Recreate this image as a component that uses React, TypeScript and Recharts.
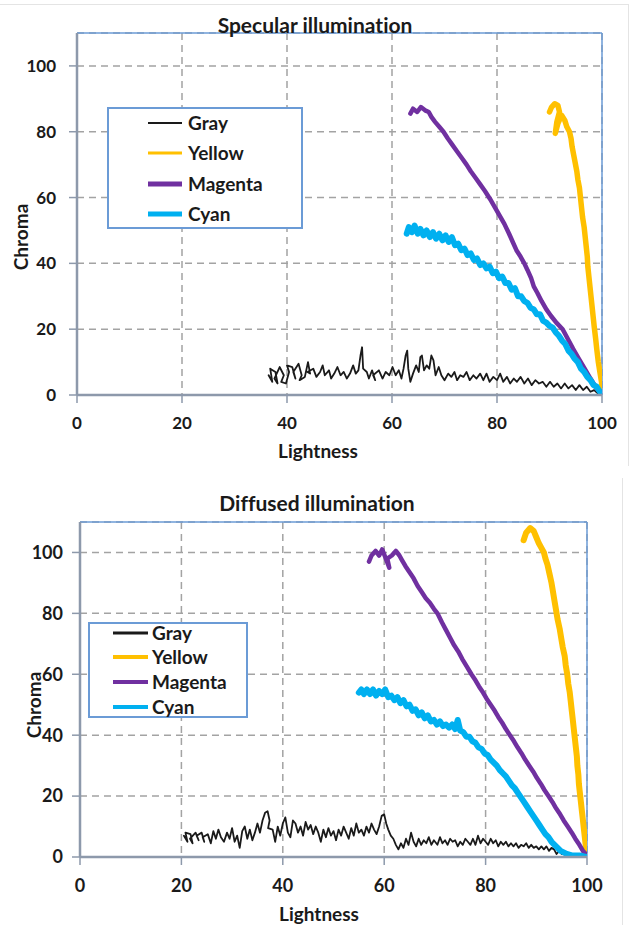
import React from 'react';
import { LineChart, Line, XAxis, YAxis, CartesianGrid, Legend, ReferenceLine } from 'recharts';

// ---------- Series meta ----------
const seriesNames = ['Gray', 'Yellow', 'Magenta', 'Cyan'];
const seriesColors: Record<string, string> = {
  Gray: '#1a1a1a',
  Yellow: '#ffc000',
  Magenta: '#7030a0',
  Cyan: '#00b0f0',
};

const xTicks = [0, 20, 40, 60, 80, 100];
const yTicks = [0, 20, 40, 60, 80, 100];

// ---------- Specular illumination (Lightness, Chroma) ----------
const specGray: number[][] = [
  [36.5, 6], [37.2, 4], [36.8, 8], [37.8, 7], [38.2, 3.5], [37.6, 5], [38.6, 8.5], [39.4, 6], [38.9, 4],
  [39.8, 3.5], [40.4, 7], [40, 9], [41, 8.5], [41.6, 5], [41.2, 7], [42.2, 9.5], [42.8, 6], [42.4, 4.5],
  [43.4, 5.5], [44, 10], [44.4, 6.5], [43.9, 7], [45, 8], [45.6, 5.5], [46.3, 7], [46.8, 9], [47.2, 6],
  [48, 7.5], [48.4, 5], [49, 6.5], [49.6, 8.5], [50.2, 6], [50.8, 7], [51.4, 5], [52, 6.5], [52.6, 9],
  [53.1, 6.5], [53.6, 7.5], [54, 12], [54.3, 14.5], [54.5, 8], [55.2, 7], [55.6, 5], [56.2, 7.5],
  [56.8, 4.5], [56.4, 6], [57.5, 7.5], [58.2, 5], [58.8, 7], [59.5, 6], [60.1, 8.5], [60.7, 6],
  [61.3, 7.5], [61.8, 5], [62.2, 8], [62.6, 12], [62.9, 13.5], [63.1, 8], [63.5, 4], [64, 6.5],
  [64.6, 9], [65.1, 7], [65.4, 11.5], [65.7, 12], [66.1, 7.5], [66.6, 9], [67.1, 8], [67.5, 12],
  [67.9, 10.5], [68.3, 6], [68.9, 8.5], [69.4, 6], [70, 4.5], [70.7, 6.5], [71.3, 5.5], [71.9, 7],
  [72.4, 4.5], [73, 6], [73.6, 5.5], [74.2, 7], [74.8, 4.5], [75.5, 6], [76.1, 5], [76.8, 6.5],
  [77.4, 4.5], [78, 6.5], [78.6, 4], [79.3, 5.5], [80, 4.5], [80.6, 6.5], [81.2, 4], [81.9, 5.5],
  [82.5, 3.5], [83.2, 5], [83.8, 4], [84.5, 5.5], [85.2, 3.5], [85.9, 5], [86.6, 3], [87.3, 4.5],
  [88, 3.5], [88.7, 4], [89.4, 2.5], [90.1, 4], [90.8, 2.5], [91.5, 3.5], [92.2, 2], [92.9, 3.5],
  [93.6, 2], [94.3, 3], [95, 1.5], [95.7, 3], [96.4, 1.5], [97.1, 2.5], [97.8, 1], [98.5, 1.5],
  [99.2, 0.5], [100, 0],
];

const specYellow: number[][] = [
  [90, 86], [90.4, 87.5], [91, 88.5], [91.6, 88], [91.9, 86], [91.4, 83], [91.1, 79.5], [91.6, 82.5],
  [92.3, 85], [92.9, 83.5], [93.3, 81.5], [93.8, 80], [94.1, 78], [94.3, 75.5], [94.6, 73], [94.9, 70.5],
  [95.2, 68], [95.4, 65.5], [95.7, 63], [95.9, 60], [96.1, 57], [96.3, 54], [96.6, 51], [96.8, 48],
  [97, 45], [97.2, 42], [97.3, 39], [97.5, 36], [97.7, 33], [97.9, 30], [98.1, 27], [98.3, 24],
  [98.5, 21], [98.8, 17], [99, 14], [99.3, 10], [99.6, 7], [99.9, 4], [100, 2],
];

const specMagenta: number[][] = [
  [63.5, 85.5], [64, 87], [64.8, 86], [65.5, 87.5], [66.3, 86.5], [67, 86], [67.5, 84.5], [68.2, 83],
  [69, 81.5], [69.8, 80], [70.6, 78], [71.5, 76], [72.4, 74], [73.3, 72], [74.2, 70], [75, 68],
  [75.9, 66], [76.8, 64], [77.7, 62], [78.7, 59.5], [79.6, 57], [80.5, 54.5], [81.4, 52], [82.3, 49],
  [83, 46.5], [83.7, 44], [84.5, 42], [85.2, 40], [85.8, 38], [86.5, 35.5], [87, 33], [87.7, 31],
  [88.5, 28.5], [89.4, 26], [90.3, 24], [91.3, 22], [92.5, 20], [93.5, 17], [94.5, 14], [95.6, 11],
  [96.7, 8], [97.8, 5], [99, 2], [100, 0.5],
];

const specCyan: number[][] = [
  [62.8, 49], [63.2, 51], [63.8, 49.5], [64.3, 51.5], [64.9, 49], [65.4, 50.5], [66, 48.5], [66.6, 50],
  [67.2, 48], [67.8, 49.5], [68.4, 47.5], [69, 49], [69.6, 47], [70.2, 48.5], [70.8, 46.5], [71.4, 48],
  [72, 45.5], [72.6, 46], [73.2, 44], [73.8, 44.5], [74.4, 42.5], [75, 43], [75.6, 41], [76.2, 41.5],
  [76.8, 39.5], [77.4, 40], [78, 38.5], [78.6, 39], [79.2, 37], [79.8, 37.5], [80.4, 35.5], [81, 36],
  [81.6, 34], [82.2, 34], [82.8, 32], [83.4, 32.5], [84, 30], [84.6, 30], [85.2, 28.5], [85.8, 28],
  [86.4, 26.5], [87, 26], [87.6, 24.5], [88.2, 24.5], [88.8, 22.5], [89.4, 22], [90, 21], [90.6, 20.5],
  [91.2, 19], [91.8, 18], [92.4, 16.5], [93, 15.5], [93.6, 13.5], [94.2, 12.5], [94.8, 11], [95.4, 10],
  [96, 8], [96.6, 7], [97.2, 5.5], [97.8, 4.5], [98.4, 3], [99, 2.5], [99.6, 1], [100, 0.5],
];

// ---------- Diffused illumination (Lightness, Chroma) ----------
const diffGray: number[][] = [
  [20.5, 7], [21.2, 5], [20.8, 8], [21.8, 7.5], [22.2, 4.5], [21.7, 6], [22.8, 8], [23.4, 5.5], [23, 7],
  [24, 8], [24.5, 5], [24.2, 6.5], [25.2, 7.5], [25.8, 4.5], [26.3, 8.5], [26.8, 6], [27.3, 9],
  [27.8, 6.5], [28.4, 5], [29, 8], [29.5, 6], [30, 9.5], [30.5, 5], [31, 7], [31.5, 3], [32, 8.5],
  [32.5, 10], [33, 6], [33.5, 9], [34, 5.5], [34.5, 8], [35, 11], [35.5, 8], [36, 12], [36.5, 14.5],
  [37, 15], [37.4, 12], [37.1, 9.5], [38, 9], [38.5, 5], [39, 10], [39.5, 7], [40, 11], [40.5, 13],
  [41, 8], [41.5, 6.5], [42, 12], [42.5, 11], [43, 8], [43.5, 10], [44, 7], [44.5, 11.5], [45, 9],
  [45.5, 10.5], [46, 7.5], [46.5, 10], [47, 8], [47.5, 5], [48, 9], [48.5, 6.5], [49, 9.5], [49.5, 7],
  [50, 8.5], [50.5, 5.5], [51, 9], [51.5, 7], [52, 10], [52.5, 8], [53, 6], [53.5, 9.5], [54, 7],
  [54.5, 11], [55, 8], [55.5, 9], [56, 7], [56.5, 10], [57, 8], [57.5, 11], [58, 9], [58.5, 7.5],
  [59, 10], [59.5, 13.5], [60, 14], [60.4, 11], [60.8, 9], [61.3, 7], [61.8, 6], [62.3, 4], [62.8, 2.5],
  [63.3, 4.5], [63.8, 3], [64.3, 6], [64.8, 4], [65.3, 8], [65.8, 5], [66.3, 3.5], [66.8, 6], [67.3, 4],
  [67.8, 5.5], [68.3, 4.5], [68.8, 6.5], [69.3, 4], [69.8, 5.5], [70.5, 4], [71, 6.5], [71.5, 4.5],
  [72, 5.5], [72.5, 4], [73, 6], [73.5, 5], [74, 5.5], [74.5, 3.5], [75, 5], [75.5, 4], [76, 6],
  [76.5, 5], [77, 4], [77.5, 6], [78, 4], [78.5, 7], [79, 4.5], [79.5, 6], [80, 5], [80.5, 4], [81, 6],
  [81.5, 4.5], [82, 5.5], [82.5, 3.5], [83, 5], [83.5, 4], [84, 5], [84.5, 3.5], [85, 4.5], [85.5, 3.5],
  [86, 4.5], [86.5, 3], [87, 4], [87.5, 3.5], [88, 4.5], [88.5, 3], [89, 4], [89.5, 3], [90, 3.5],
  [90.5, 2.5], [91, 3.5], [91.5, 2.5], [92, 3.5], [92.5, 2], [93, 3], [93.5, 2.5], [94, 1], [94.5, 2],
  [95, 1], [95.5, 1.5], [96, 0.5],
];

const diffYellow: number[][] = [
  [87.5, 104], [88, 106.5], [88.8, 108], [89.5, 107], [90, 105], [90.5, 103], [91, 101.5], [91.5, 100],
  [91.8, 98], [92.2, 96], [92.6, 93], [93, 90], [93.3, 87], [93.6, 84], [93.9, 81], [94.2, 78],
  [94.6, 75], [94.9, 72], [95.2, 69], [95.6, 66], [95.8, 63], [96.1, 60], [96.3, 57], [96.6, 54],
  [96.8, 51], [97, 48], [97.2, 45], [97.4, 42], [97.6, 39], [97.8, 36], [98, 33], [98.1, 30],
  [98.3, 27], [98.4, 24], [98.6, 21], [98.8, 18], [99, 15], [99.2, 12], [99.4, 9], [99.6, 6],
  [99.8, 3], [100, 1],
];

const diffMagenta: number[][] = [
  [57, 97], [57.5, 99], [58.3, 100.5], [59, 99], [59.6, 101], [60.2, 98.5], [61, 95], [60.6, 98],
  [61.5, 99], [62.3, 100.5], [63, 99], [63.5, 97.5], [64.2, 95.5], [65, 93.5], [65.8, 91.5], [66.6, 89],
  [67.4, 87], [68.2, 85], [69, 83.5], [69.8, 81.5], [70.5, 80], [71.4, 77], [72.2, 74.5], [73, 72],
  [73.8, 69.5], [74.6, 67.5], [75.4, 65], [76.3, 62.5], [77.2, 60], [78, 58], [78.7, 56], [79.5, 54],
  [80.2, 52], [81, 50], [81.8, 48], [82.5, 46], [83.3, 44], [84, 42], [84.8, 40], [85.6, 38],
  [86.3, 36], [87.1, 34], [87.8, 32], [88.6, 30], [89.4, 28], [90.1, 26], [90.9, 24], [91.6, 22],
  [92.4, 20], [93.2, 18], [93.9, 16], [94.7, 14], [95.4, 12], [96.2, 10], [97, 8], [97.7, 6],
  [98.5, 4], [99.2, 2], [100, 0.5],
];

const diffCyan: number[][] = [
  [55, 54], [55.5, 55], [56, 53.5], [56.6, 55], [57.2, 53.5], [57.8, 55], [58.4, 53], [59, 54.5],
  [59.6, 53.5], [60.2, 55], [60.8, 52.5], [61.4, 53], [62, 51.5], [62.6, 52.5], [63.2, 50.5], [63.8, 51.5],
  [64.4, 49.5], [65, 50], [65.6, 48], [66.2, 48.5], [66.8, 46.5], [67.4, 47.5], [68, 45.5], [68.6, 46.5],
  [69.2, 44.5], [69.8, 45], [70.4, 43.5], [71, 44.5], [71.6, 43], [72.2, 43.5], [72.8, 42.5], [73.4, 43.5],
  [74, 42], [74.5, 45], [75, 41.5], [75.6, 41], [76.2, 39.5], [76.8, 39.5], [77.4, 38], [78, 37.5],
  [78.6, 36], [79.2, 35.5], [79.8, 34], [80.4, 33.5], [81, 32], [81.6, 31], [82.2, 30], [82.8, 28.5],
  [83.4, 27.5], [84, 26.5], [84.6, 25], [85.2, 23.5], [85.8, 22.5], [86.4, 21], [87, 19.5], [87.6, 18],
  [88.2, 16.5], [88.8, 15], [89.4, 13.5], [90, 12], [90.6, 10.5], [91.2, 9], [91.8, 7.5], [92.4, 6.5],
  [93, 5], [93.6, 4], [94.2, 3], [94.8, 2], [95.4, 1.5], [96, 1], [97, 0.5], [98.5, 0.5], [100, 0],
];

const specSeries = [specGray, specYellow, specMagenta, specCyan];
const diffSeries = [diffGray, diffYellow, diffMagenta, diffCyan];

const toPoints = (arr: number[][]) => arr.map(([x, y]) => ({ x, y }));

const FONT = 'Lato, "Open Sans", sans-serif';
const AXIS_GRAY = '#8d99ab';
const BORDER_BLUE = '#6b9bd6';
const GRID_GRAY = '#a3a3a3';

type ChartCfg = {
  title: string;
  series: number[][][];
  top: number;
  height: number;
  marginTop: number;
  marginRight: number;
  yAxisWidth: number;
  xAxisHeight: number;
  tickFont: number;
  yTickMargin: number;
  plotWidths: number[];
  legendWidths: number[];
  legend: { left: number; top: number; w: number; h: number; rows: number[]; lx1: number; lx2: number; tx: number; font: number };
  titlePos: { x: number; y: number; size: number };
  xLabelPos: { x: number; y: number; size: number };
  yLabelPos: { x: number; y: number; size: number };
};

const textBase: React.CSSProperties = {
  fontFamily: FONT,
  fontWeight: 700,
  color: '#1a1a1a',
  whiteSpace: 'nowrap',
  fontVariantLigatures: 'none',
  fontFeatureSettings: '"liga" 0',
};

const makeLegend = (cfg: ChartCfg) => (props: any) => {
  const payload = [...(props.payload || [])].sort(
    (a: any, b: any) => seriesNames.indexOf(a.value) - seriesNames.indexOf(b.value)
  );
  const L = cfg.legend;
  return (
    <div
      style={{
        width: L.w,
        height: L.h,
        boxSizing: 'border-box',
        border: `2px solid ${BORDER_BLUE}`,
        background: '#fff',
        position: 'relative',
      }}
    >
      {payload.map((p: any, i: number) => {
        const idx = seriesNames.indexOf(p.value);
        const rowH = 24;
        return (
          <div
            key={p.value}
            style={{ position: 'absolute', left: -2, top: L.rows[i] - 2 - rowH / 2, height: rowH, width: L.w }}
          >
            <svg width={L.lx2 + 2} height={rowH} style={{ position: 'absolute', left: 0, top: 0 }}>
              <line
                x1={L.lx1}
                x2={L.lx2}
                y1={rowH / 2}
                y2={rowH / 2}
                stroke={p.color}
                strokeWidth={cfg.legendWidths[idx]}
              />
            </svg>
            <span
              style={{
                ...textBase,
                position: 'absolute',
                left: L.tx,
                top: 0,
                lineHeight: `${rowH}px`,
                fontSize: L.font,
              }}
            >
              {p.value}
            </span>
          </div>
        );
      })}
    </div>
  );
};

function Panel({ cfg }: { cfg: ChartCfg }) {
  const tickStyle = { fontFamily: FONT, fontWeight: 700, fontSize: cfg.tickFont, fill: '#1a1a1a' };
  return (
    <div style={{ position: 'absolute', left: 0, top: cfg.top, width: 632, height: cfg.height }}>
      <LineChart
        width={632}
        height={cfg.height}
        margin={{ top: cfg.marginTop, right: cfg.marginRight, left: 0, bottom: 0 }}
      >
        <CartesianGrid stroke={GRID_GRAY} strokeWidth={1.5} strokeDasharray="7 5" />
        <XAxis
          type="number"
          dataKey="x"
          domain={[0, 100]}
          ticks={xTicks}
          interval={0}
          height={cfg.xAxisHeight}
          tick={tickStyle}
          tickSize={8}
          tickMargin={14}
          axisLine={{ stroke: AXIS_GRAY, strokeWidth: 2.5 }}
          tickLine={{ stroke: AXIS_GRAY, strokeWidth: 1.5 }}
          allowDataOverflow
        />
        <YAxis
          type="number"
          domain={[0, 110]}
          ticks={yTicks}
          interval={0}
          width={cfg.yAxisWidth}
          tick={tickStyle}
          tickSize={8}
          tickMargin={cfg.yTickMargin}
          axisLine={{ stroke: AXIS_GRAY, strokeWidth: 2.5 }}
          tickLine={{ stroke: AXIS_GRAY, strokeWidth: 1.5 }}
          allowDataOverflow
        />
        <ReferenceLine y={110} stroke={BORDER_BLUE} strokeWidth={1.5} />
        <ReferenceLine x={100} stroke={BORDER_BLUE} strokeWidth={1.5} />
        {seriesNames.map((name, i) => (
          <Line
            key={name}
            name={name}
            data={toPoints(cfg.series[i])}
            dataKey="y"
            type="linear"
            stroke={seriesColors[name]}
            strokeWidth={cfg.plotWidths[i]}
            strokeLinejoin="round"
            strokeLinecap="round"
            dot={false}
            activeDot={false}
            legendType="line"
            isAnimationActive={false}
          />
        ))}
        <Legend
          layout="vertical"
          align="center"
          verticalAlign="middle"
          content={makeLegend(cfg)}
          wrapperStyle={{ left: cfg.legend.left, top: cfg.legend.top, width: cfg.legend.w, height: cfg.legend.h }}
        />
      </LineChart>
      <div
        style={{
          ...textBase,
          position: 'absolute',
          left: cfg.titlePos.x,
          top: cfg.titlePos.y,
          transform: 'translate(-50%, -50%)',
          fontSize: cfg.titlePos.size,
        }}
      >
        {cfg.title}
      </div>
      <div
        style={{
          ...textBase,
          position: 'absolute',
          left: cfg.xLabelPos.x,
          top: cfg.xLabelPos.y,
          transform: 'translate(-50%, -50%)',
          fontSize: cfg.xLabelPos.size,
        }}
      >
        Lightness
      </div>
      <div
        style={{
          ...textBase,
          position: 'absolute',
          left: cfg.yLabelPos.x,
          top: cfg.yLabelPos.y,
          transform: 'translate(-50%, -50%) rotate(-90deg)',
          fontSize: cfg.yLabelPos.size,
        }}
      >
        Chroma
      </div>
    </div>
  );
}

const specCfg: ChartCfg = {
  title: 'Specular illumination',
  series: specSeries,
  top: 0,
  height: 465,
  marginTop: 33,
  marginRight: 30,
  yAxisWidth: 77,
  xAxisHeight: 70,
  tickFont: 17,
  yTickMargin: 13,
  plotWidths: [1.8, 5.5, 4.5, 6],
  legendWidths: [2, 3, 5, 5],
  legend: { left: 107, top: 107, w: 196, h: 122, rows: [16, 46, 77, 107], lx1: 41, lx2: 75, tx: 81, font: 19 },
  titlePos: { x: 315, y: 24, size: 21 },
  xLabelPos: { x: 318, y: 450, size: 19 },
  yLabelPos: { x: 20, y: 237, size: 19 },
};

const diffCfg: ChartCfg = {
  title: 'Diffused illumination',
  series: diffSeries,
  top: 470,
  height: 455,
  marginTop: 52,
  marginRight: 45,
  yAxisWidth: 80,
  xAxisHeight: 68,
  tickFont: 18,
  yTickMargin: 9,
  plotWidths: [1.8, 6, 4.5, 6],
  legendWidths: [3, 4, 4, 4],
  legend: { left: 88, top: 152, w: 160, h: 96, rows: [11, 35, 60, 85], lx1: 25, lx2: 60, tx: 64, font: 19 },
  titlePos: { x: 317, y: 32, size: 21 },
  xLabelPos: { x: 319, y: 443, size: 19 },
  yLabelPos: { x: 33, y: 235, size: 19 },
};

export default function App() {
  return (
    <div style={{ position: 'absolute', left: 0, top: 0, width: 632, height: 925, background: '#fff', overflow: 'hidden' }}>
      <div style={{ position: 'absolute', left: 0, top: 4, width: 628, height: 1, background: '#e4e4e4' }} />
      <div style={{ position: 'absolute', left: 628, top: 4, width: 1, height: 462, background: '#e4e4e4' }} />
      <div style={{ position: 'absolute', left: 622, top: 478, width: 1, height: 447, background: '#e4e4e4' }} />
      <Panel cfg={specCfg} />
      <Panel cfg={diffCfg} />
    </div>
  );
}
